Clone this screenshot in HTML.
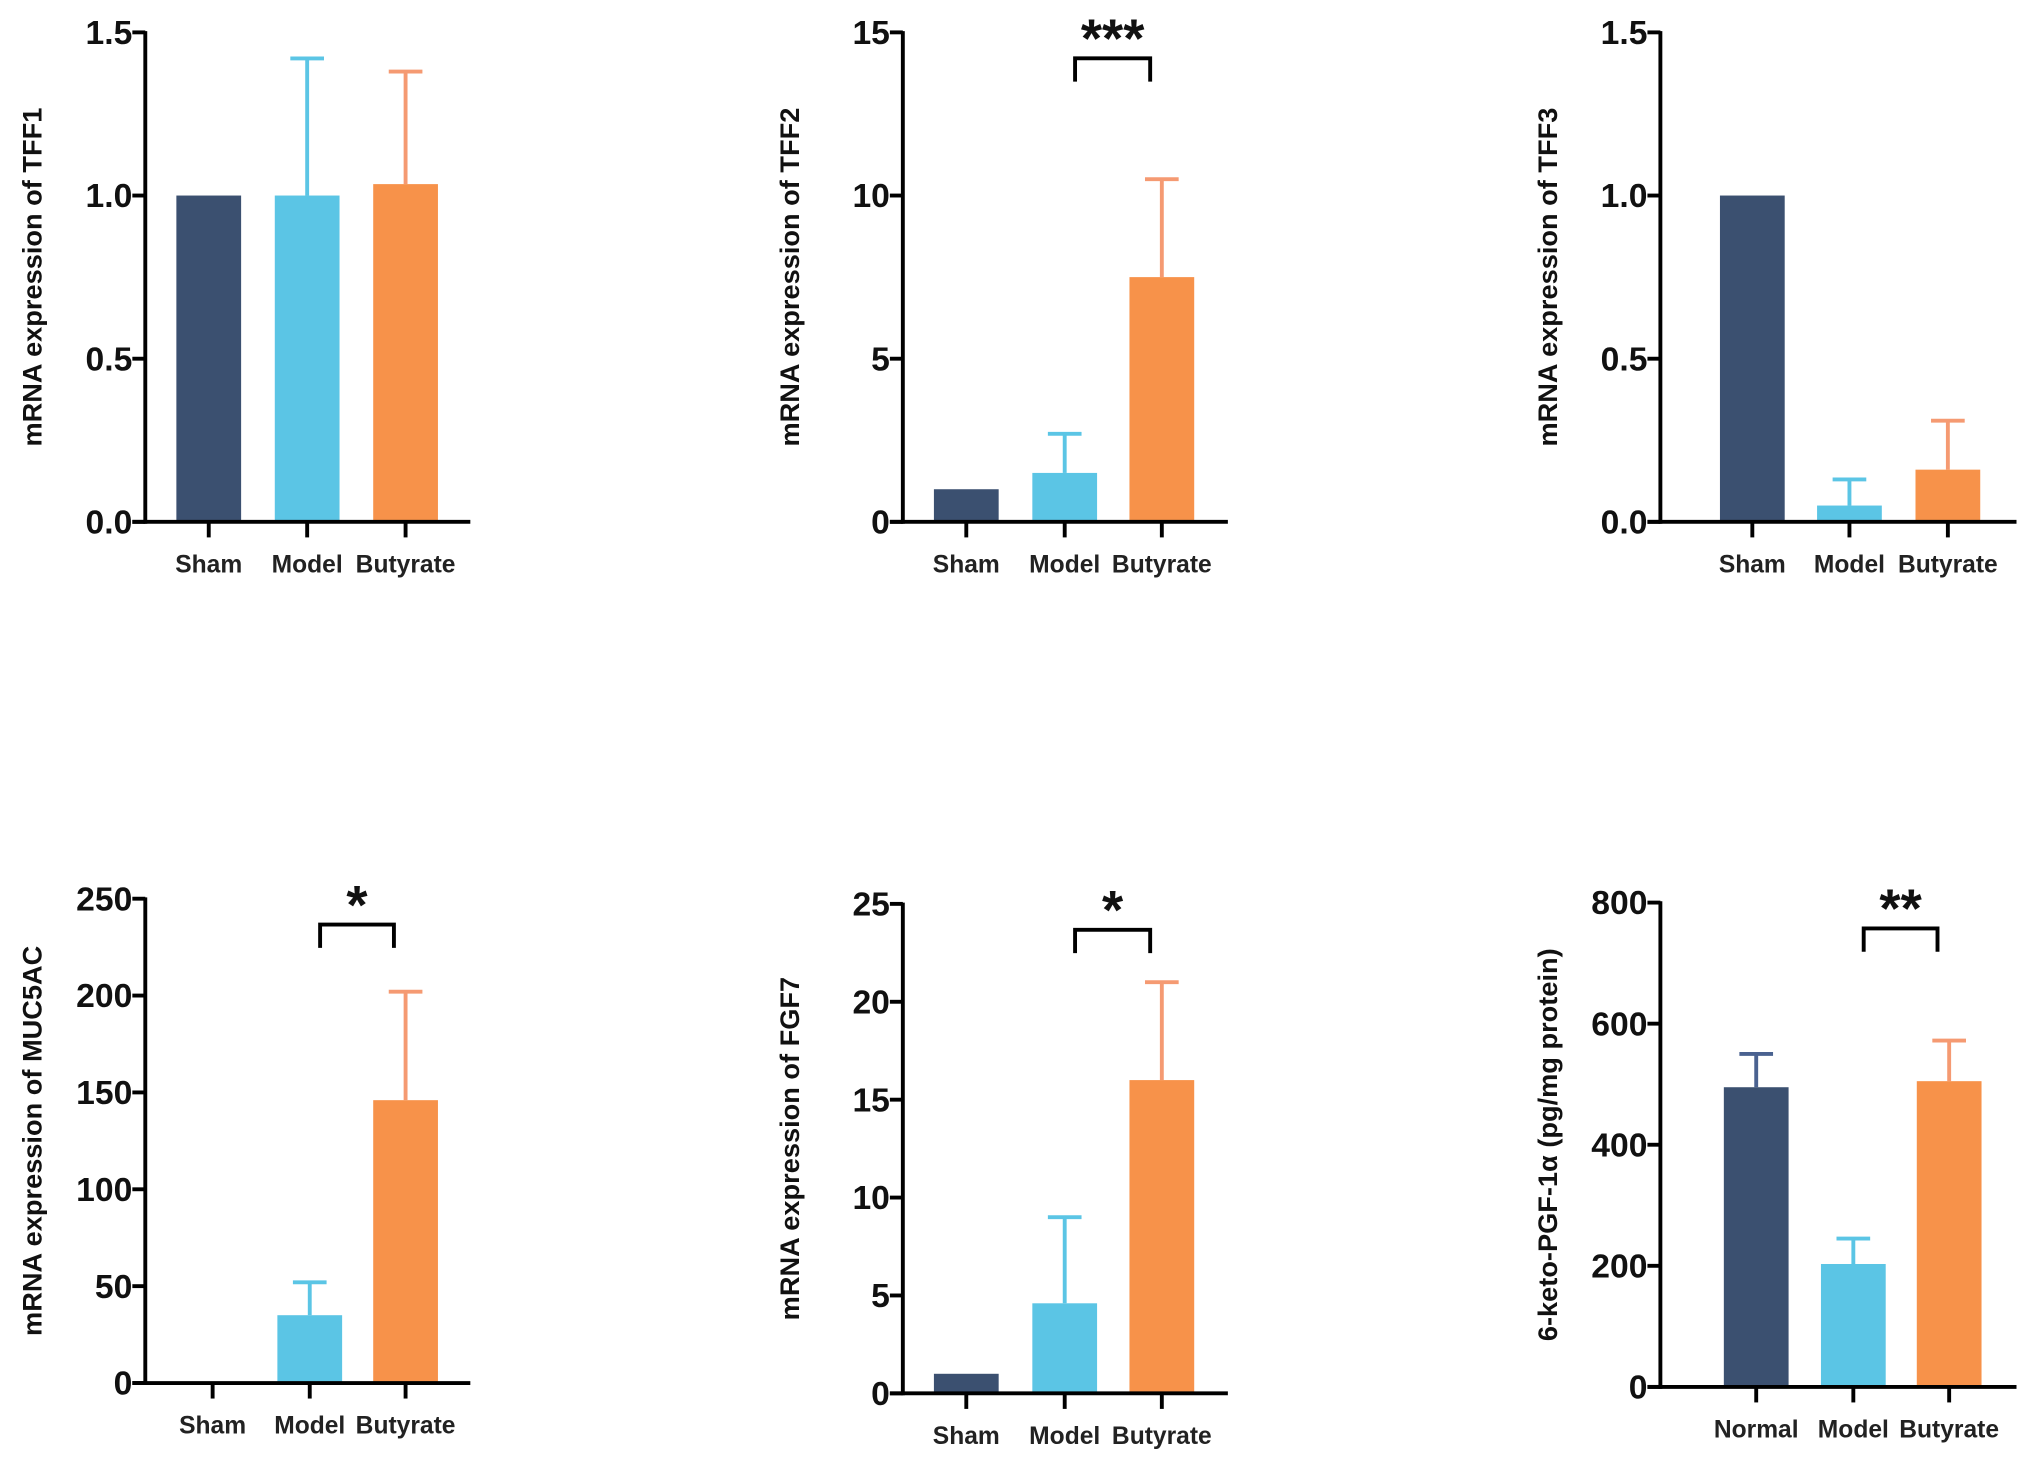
<!DOCTYPE html>
<html><head><meta charset="utf-8"><style>
html,body{margin:0;padding:0;background:#fff;}
svg{display:block;font-family:"Liberation Sans",Arial,sans-serif;font-weight:bold;}
</style></head><body>
<svg id="fig" width="2031" height="1462" viewBox="0 0 1568 1129" xmlns="http://www.w3.org/2000/svg"></svg>
<script>
const groups1 = ["Sham","Model","Butyrate"];
const groups6 = ["Normal","Model","Butyrate"];
const tff1Means = [1.0, 1.0, 1.035];
const tff1Errs = [null, 1.42, 1.38];
const tff2Means = [1.0, 1.5, 7.5];
const tff2Errs = [null, 2.7, 10.5];
const tff3Means = [1.0, 0.05, 0.16];
const tff3Errs = [null, 0.13, 0.31];
const mucMeans = [0, 35, 146];
const mucErrs = [null, 52, 202];
const fgfMeans = [1.0, 4.6, 16];
const fgfErrs = [null, 9, 21];
const pgfMeans = [495, 203, 505];
const pgfErrs = [550, 245, 572];
const ticksTff1 = ["0.0","0.5","1.0","1.5"];
const ticksTff2 = ["0","5","10","15"];
const ticksMuc = ["0","50","100","150","200","250"];
const ticksFgf = ["0","5","10","15","20","25"];
const ticksPgf = ["0","200","400","600","800"];

const NS="http://www.w3.org/2000/svg";
const svg=document.getElementById('fig');
const colors=["#3b5070","#5bc5e5","#f7924a"];
const errColors=["#4a6290","#5bc5e5","#f59a72"];
function mk(tag,attrs,parent){const e=document.createElementNS(NS,tag);for(const k in attrs)e.setAttribute(k,attrs[k]);(parent||svg).appendChild(e);return e;}

function panel(cfg){
  const g=mk('g',{});
  
  
  const ticks=cfg.ticks.map(Number);
  const ymax=ticks[ticks.length-1];
  const y=v=>cfg.y0-(v/ymax)*(cfg.y0-cfg.yTop);
  const xs=cfg.centers;
  const bw=50;
  cfg.means.forEach((m,i)=>{
    const e=cfg.errs[i];
    if(e!=null){
      const l=mk('line',{x1:xs[i],x2:xs[i],y1:y(m),y2:y(e),stroke:errColors[i],'stroke-width':3},g);
      
      
      const c=mk('line',{x1:xs[i]-13,x2:xs[i]+13,y1:y(e),y2:y(e),stroke:errColors[i],'stroke-width':3},g);
      
      
    }
    if(m>0){
      const r=mk('rect',{x:xs[i]-bw/2,y:y(m),width:bw,height:cfg.y0-y(m),fill:colors[i]},g);
      
      
    }
  });
  const ya=mk('line',{x1:cfg.ax,x2:cfg.ax,y1:cfg.yTop-1,y2:cfg.y0+1.5,stroke:'#000','stroke-width':3},g);
  
  
  const xa=mk('line',{x1:cfg.ax-10,x2:cfg.axEnd,y1:cfg.y0,y2:cfg.y0,stroke:'#000','stroke-width':3},g);
  
  
  cfg.ticks.forEach((t,i)=>{
    const yy=y(ticks[i]);
    mk('line',{x1:cfg.ax-10,x2:cfg.ax,y1:yy,y2:yy,stroke:'#000','stroke-width':3},g);
    const tx=mk('text',{x:cfg.ax-10,y:yy+9,'text-anchor':'end','font-size':26,fill:'#111'},g);
    tx.textContent=t;
    
    
  });
  cfg.groups.forEach((lab,i)=>{
    mk('line',{x1:xs[i],x2:xs[i],y1:cfg.y0,y2:cfg.y0+12,stroke:'#000','stroke-width':3},g);
    const tx=mk('text',{x:xs[i],y:cfg.y0+39,'text-anchor':'middle','font-size':19,fill:'#222'},g);
    tx.textContent=lab;
    
    
  });
  const ty=(cfg.yTop+cfg.y0)/2;
  const tt=mk('text',{x:0,y:0,transform:`translate(${cfg.ax-80},${ty}) rotate(-90)`,'text-anchor':'middle','font-size':21,fill:'#111'},g);
  tt.textContent=cfg.title;
  
  
  if(cfg.sig){
    const [a,b]=[xs[1]+8,xs[2]-9];
    const top=cfg.yTop+20;
    const br=mk('path',{d:`M${a},${top+18} L${a},${top} L${b},${top} L${b},${top+18}`,fill:'none',stroke:'#000','stroke-width':3},g);
    
    
    const st=mk('text',{x:(a+b)/2,y:top-1,'text-anchor':'middle','font-size':42,fill:'#111'},g);
    st.textContent=cfg.sig;
    
    
  }
}
panel({name:'tff1-chart',ax:112,axEnd:363,yTop:25,y0:403,centers:[161,237,313],means:tff1Means,errs:tff1Errs,ticks:ticksTff1,groups:groups1,title:'mRNA expression of TFF1'});
panel({name:'tff2-chart',ax:697,axEnd:948,yTop:25,y0:403,centers:[746,822,897],means:tff2Means,errs:tff2Errs,ticks:ticksTff2,groups:groups1,title:'mRNA expression of TFF2',sig:'***'});
panel({name:'tff3-chart',ax:1282,axEnd:1557,yTop:25,y0:403,centers:[1353,1428,1504],means:tff3Means,errs:tff3Errs,ticks:ticksTff1,groups:groups1,title:'mRNA expression of TFF3'});
panel({name:'muc5ac-chart',ax:112,axEnd:363,yTop:694,y0:1068,centers:[164,239,313],means:mucMeans,errs:mucErrs,ticks:ticksMuc,groups:groups1,title:'mRNA expression of MUC5AC',sig:'*'});
panel({name:'fgf7-chart',ax:697,axEnd:948,yTop:698,y0:1076,centers:[746,822,897],means:fgfMeans,errs:fgfErrs,ticks:ticksFgf,groups:groups1,title:'mRNA expression of FGF7',sig:'*'});
panel({name:'pgf-chart',ax:1282,axEnd:1557,yTop:697,y0:1071,centers:[1356,1431,1505],means:pgfMeans,errs:pgfErrs,ticks:ticksPgf,groups:groups6,title:'6-keto-PGF-1α (pg/mg protein)',sig:'**'});
</script>
</body></html>
